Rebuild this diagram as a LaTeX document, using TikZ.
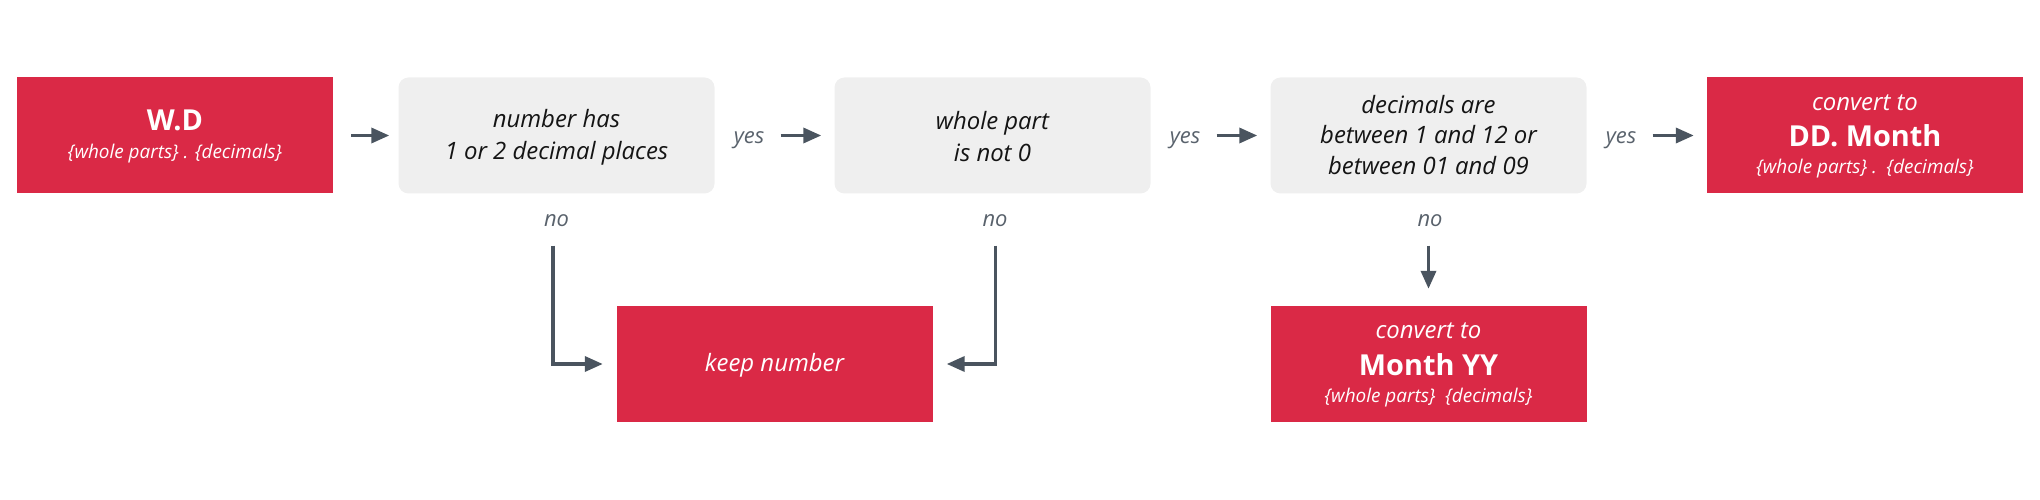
\documentclass[tikz,border=0pt]{standalone}
\usepackage{fontspec}
\setmainfont{Open Sans}
\usetikzlibrary{arrows.meta}
\definecolor{boxred}{HTML}{DA2946}
\definecolor{boxgray}{HTML}{EFEFEF}
\definecolor{arrowc}{HTML}{4A545F}
\definecolor{labc}{HTML}{59626C}
\definecolor{txtc}{HTML}{141414}
\begin{document}
\begin{tikzpicture}[x=1bp,y=-1bp,
  redbox/.style={fill=boxred, draw=none, minimum width=316bp, minimum height=116bp, inner sep=0pt},
  graybox/.style={fill=boxgray, draw=none, rounded corners=10bp, minimum width=316bp, minimum height=116bp, inner sep=0pt},
  bodytxt/.style={anchor=base, inner sep=0pt, text=txtc, font=\fontsize{24}{30}\selectfont\itshape},
  redtxt/.style={anchor=base, inner sep=0pt, text=white, font=\fontsize{24}{30}\selectfont\itshape},
  redtitle/.style={anchor=base, inner sep=0pt, text=white, font=\fontsize{29}{34}\selectfont\bfseries},
  redsub/.style={anchor=base, inner sep=0pt, text=white, font=\fontsize{19}{24}\selectfont\itshape},
  lab/.style={anchor=base, inner sep=0pt, text=labc, font=\fontsize{22}{26}\selectfont\itshape},
  arr/.style={draw=arrowc, line width=3.5bp, -{Triangle[length=18bp,width=15bp]}}
]
\useasboundingbox (0,0) rectangle (2040,500);

% boxes
\node[redbox]  (wd)   at (175,135.5)  {};
\node[graybox] (g1)   at (556.5,135.5) {};
\node[graybox] (g2)   at (992.5,135.5) {};
\node[graybox] (g3)   at (1428.5,135.5) {};
\node[redbox]  (dd)   at (1865,135.5) {};
\node[redbox]  (keep) at (774.5,364) {};
\node[redbox]  (my)   at (1428.5,364) {};

% texts
\node[redtitle] (wdT) at (175,131) {W.D};
\node[redsub]   (wdS) at (175,159) {\{whole parts\} . \{decimals\}};

\node[bodytxt] (g1a) at (556.5,128) {number has};
\node[bodytxt] (g1b) at (556.5,160) {1 or 2 decimal places};

\node[bodytxt] (g2a) at (992.5,129.3) {whole part};
\node[bodytxt] (g2b) at (992.5,161.5) {is not 0};

\node[bodytxt] (g3a) at (1428.5,113.3) {decimals are};
\node[bodytxt] (g3b) at (1428.5,144) {between 1 and 12 or};
\node[bodytxt] (g3c) at (1428.5,174.3) {between 01 and 09};

\node[redtxt]   (dda) at (1865,110.5) {convert to};
\node[redtitle] (ddb) at (1865,147) {DD. Month};
\node[redsub]   (ddc) at (1865,174) {\{whole parts\} .\ \ \{decimals\}};

\node[redtxt] (keepT) at (774.5,372) {keep number};

\node[redtxt]   (mya) at (1428.5,338.5) {convert to};
\node[redtitle] (myb) at (1428.5,375.5) {Month YY};
\node[redsub]   (myc) at (1428.5,402.5) {\{whole parts\}\ \ \{decimals\}};

% labels
\node[lab] (y1) at (749,144) {yes};
\node[lab] (y2) at (1185,144) {yes};
\node[lab] (y3) at (1621,144) {yes};
\node[lab] (n1) at (556.5,227) {no};
\node[lab] (n2) at (995,227) {no};
\node[lab] (n3) at (1430,227) {no};

% connectors
\draw[arr, shorten <=18bp, shorten >=9bp] (wd) -- (g1);
\draw[arr, shorten <=66bp, shorten >=13bp] (g1) -- (g2);
\draw[arr, shorten <=66bp, shorten >=13bp] (g2) -- (g3);
\draw[arr, shorten <=66bp, shorten >=13bp] (g3) -- (dd);
\draw[arr, shorten <=52bp, shorten >=13.5bp] ([xshift=-3.5bp]g1.south) |- (keep.west);
\draw[arr, shorten <=52bp, shorten >=14bp] ([xshift=3bp]g2.south) |- (keep.east);
\draw[arr, shorten <=52bp, shorten >=17bp] (g3.south) -- (my.north);
\end{tikzpicture}
\end{document}
